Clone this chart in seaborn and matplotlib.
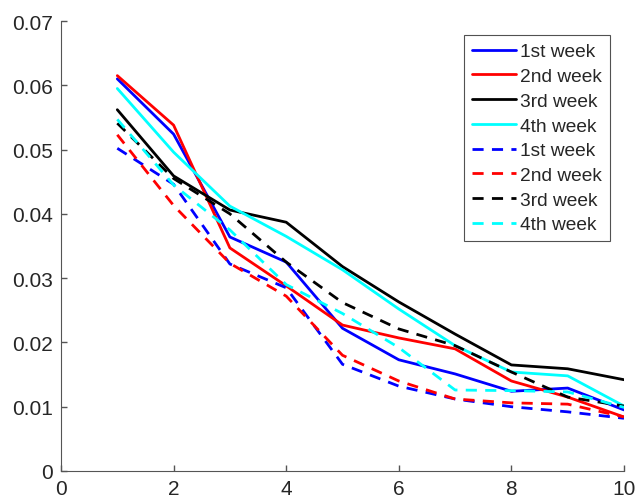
import numpy as np
import pandas as pd
import matplotlib.pyplot as plt
import seaborn as sns

x = [1, 2, 3, 4, 5, 6, 7, 8, 9, 10]
labels = ["1st week", "2nd week", "3rd week", "4th week"]
colors = ["#0000ff", "#ff0000", "#000000", "#00ffff"]

# solid lines
solid_1 = [0.0610, 0.0524, 0.0364, 0.0325, 0.0222, 0.0173, 0.0151, 0.0124, 0.0129, 0.0095]
solid_2 = [0.0615, 0.0538, 0.0347, 0.0288, 0.0227, 0.0207, 0.0190, 0.0140, 0.0115, 0.0084]
solid_3 = [0.0562, 0.0459, 0.0406, 0.0387, 0.0318, 0.0263, 0.0213, 0.0165, 0.0159, 0.0142]
solid_4 = [0.0595, 0.0496, 0.0412, 0.0365, 0.0313, 0.0252, 0.0195, 0.0154, 0.0148, 0.0101]

# dashed lines
dash_1 = [0.0502, 0.0446, 0.0322, 0.0285, 0.0166, 0.0132, 0.0112, 0.0100, 0.0092, 0.0082]
dash_2 = [0.0523, 0.0413, 0.0323, 0.0272, 0.0180, 0.0140, 0.0112, 0.0106, 0.0104, 0.0084]
dash_3 = [0.0541, 0.0455, 0.0400, 0.0325, 0.0262, 0.0221, 0.0195, 0.0154, 0.0115, 0.0101]
dash_4 = [0.0547, 0.0445, 0.0375, 0.0290, 0.0245, 0.0192, 0.0126, 0.0125, 0.0123, 0.0099]

solid = [solid_1, solid_2, solid_3, solid_4]
dashed = [dash_1, dash_2, dash_3, dash_4]

sns.set_style("white")
plt.rcParams['font.family'] = ['Liberation Sans', 'DejaVu Sans']

fig = plt.figure(figsize=(6.36, 5.02), dpi=100)
ax = fig.add_axes([61/636, 30/502, 563/636, 450/502])

for vals, c, lab in zip(solid, colors, labels):
    sns.lineplot(x=x, y=vals, color=c, linewidth=2, label=lab, ax=ax)
for vals, c, lab in zip(dashed, colors, labels):
    sns.lineplot(x=x, y=vals, color=c, linewidth=2, linestyle=(0, (4, 3)), label=lab, ax=ax)

ax.set_xlim(0, 10)
ax.set_ylim(0, 0.07)
ax.set_xticks([0, 2, 4, 6, 8, 10])
ax.set_yticks(np.arange(0, 0.0701, 0.01))
ax.set_yticklabels(["0", "0.01", "0.02", "0.03", "0.04", "0.05", "0.06", "0.07"])
ax.tick_params(direction="in", length=4, labelsize=15, color="#555555",
               labelcolor="#262626", width=1, left=True, bottom=True, pad=6)
for s in ["top", "right"]:
    ax.spines[s].set_visible(False)
for s in ["left", "bottom"]:
    ax.spines[s].set_color("#555555")

leg = ax.legend(loc="upper right", bbox_to_anchor=(0.975, 0.969), borderaxespad=0,
                fontsize=13.8, frameon=True, fancybox=False, edgecolor="#262626",
                handlelength=2.3, labelspacing=0.38, borderpad=0.42, handletextpad=0.2)
leg.get_frame().set_linewidth(0.8)

fig.savefig("out.png", dpi=100)
